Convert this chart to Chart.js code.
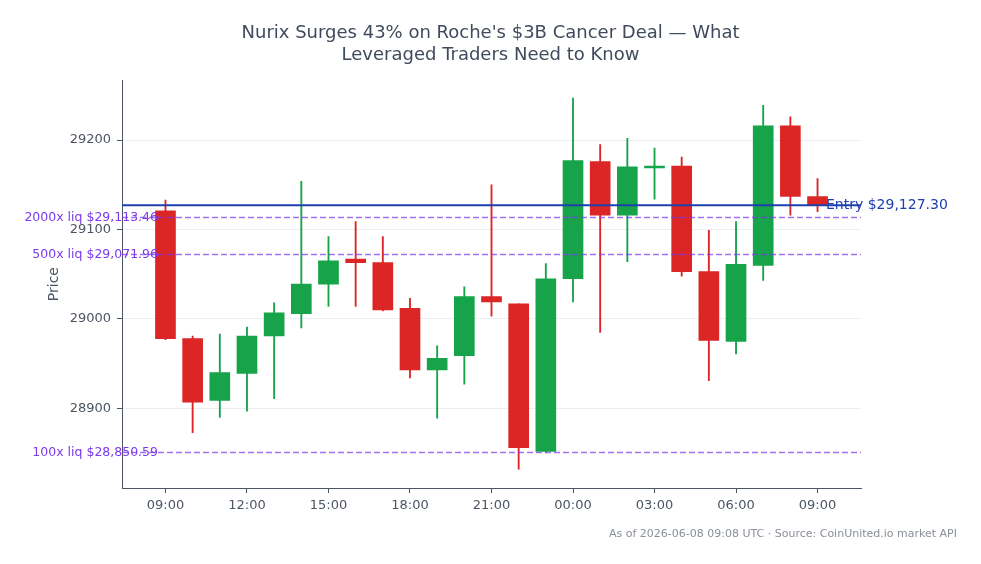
<!DOCTYPE html>
<html>
<head>
<meta charset="utf-8">
<script src="https://cdn.jsdelivr.net/npm/chart.js@4/dist/chart.umd.min.js"></script>
<style>
  html, body { margin: 0; padding: 0; background: #fff; }
</style>
</head>
<body>
<canvas id="chart" width="981" height="564"></canvas>
<script>
// hourly candles, 09:00 -> 09:00 next day
var times  = ['09:00','10:00','11:00','12:00','13:00','14:00','15:00','16:00','17:00','18:00','19:00','20:00','21:00',
              '22:00','23:00','00:00','01:00','02:00','03:00','04:00','05:00','06:00','07:00','08:00','09:00'];
var opens  = [29121, 28978, 28909, 28939, 28981, 29006, 29039, 29067, 29063, 29012, 28943, 28959, 29025,
              29017, 28852, 29045, 29176, 29116, 29169, 29171, 29053, 28975, 29060, 29216, 29137];
var highs  = [29133, 28981, 28983, 28991, 29018, 29154, 29092, 29109, 29092, 29023, 28970, 29036, 29150,
              29017, 29062, 29247, 29195, 29202, 29191, 29181, 29099, 29109, 29239, 29226, 29157];
var lows   = [28977, 28873, 28890, 28897, 28911, 28990, 29014, 29014, 29009, 28934, 28889, 28927, 29003,
              28832, 28851, 29019, 28985, 29064, 29134, 29048, 28931, 28961, 29043, 29116, 29120];
var closes = [28978, 28907, 28940, 28981, 29007, 29039, 29065, 29063, 29010, 28943, 28956, 29025, 29019,
              28856, 29045, 29177, 29116, 29170, 29171, 29053, 28976, 29061, 29216, 29137, 29127.3];

var entryPrice = 29127.30;
var liqLevels = [29113.46, 29071.96, 28850.59];
var liqLabels = ['2000x liq $29,113.46', '500x liq $29,071.96', '100x liq $28,850.59'];

const UP = '#16a34a';
const DOWN = '#dc2626';
const PURPLE = '#7c3aed';
const XMIN = -1.6, XMAX = 25.6;

var colors = [];
var bodies = [];
var wicks = [];
for (var i = 0; i < times.length; i++) {
  colors.push(closes[i] >= opens[i] ? UP : DOWN);
  var o = opens[i], c = closes[i];
  if (Math.abs(o - c) < 1.5) { c = o + (c >= o ? 1.5 : -1.5); } // keep dojis visible
  bodies.push({x: i, y: [o, c]});
  wicks.push({x: i, y: [lows[i], highs[i]]});
}

function hLine(v, color, width, dash) {
  return {
    type: 'line',
    data: [{x: XMIN, y: v}, {x: XMAX, y: v}],
    borderColor: color,
    borderWidth: width,
    borderDash: dash,
    pointRadius: 0,
    fill: false
  };
}

var datasets = [];
liqLevels.forEach(function (v) { datasets.push(hLine(v, 'rgba(124,58,237,0.72)', 1.5, [6, 3])); });
datasets.push(hLine(entryPrice, '#1e40af', 2, []));
datasets.push({ type: 'bar', data: bodies, backgroundColor: colors, barThickness: 20, grouped: false, borderWidth: 0 });
datasets.push({ type: 'bar', data: wicks, backgroundColor: colors, barThickness: 1.2, grouped: false, borderWidth: 0 });

// labels for the levels + footer note
const overlay = {
  id: 'overlay',
  afterDatasetsDraw(chart) {
    const ctx = chart.ctx, y = chart.scales.y, area = chart.chartArea;
    ctx.save();
    ctx.textBaseline = 'middle';
    ctx.font = '12.5px "DejaVu Sans"';
    ctx.fillStyle = PURPLE;
    ctx.textAlign = 'right';
    liqLevels.forEach(function (v, i) {
      ctx.fillText(liqLabels[i], area.left + 36, y.getPixelForValue(v));
    });
    ctx.font = '14px "DejaVu Sans"';
    ctx.fillStyle = '#1e40af';
    ctx.textAlign = 'left';
    ctx.fillText('Entry $29,127.30', area.right - 35, y.getPixelForValue(entryPrice));
    ctx.font = '11px "DejaVu Sans"';
    ctx.fillStyle = '#8a9099';
    ctx.textAlign = 'right';
    ctx.fillText('As of 2026-06-08 09:08 UTC \u00b7 Source: CoinUnited.io market API', 957, 534);
    ctx.restore();
  }
};

Chart.defaults.font.family = '"DejaVu Sans", sans-serif';

new Chart(document.getElementById('chart'), {
  type: 'bar',
  data: { datasets: datasets },
  plugins: [overlay],
  options: {
    responsive: false,
    animation: false,
    layout: { padding: 0 },
    plugins: {
      legend: { display: false },
      tooltip: { enabled: false },
      title: {
        display: true,
        text: ["Nurix Surges 43% on Roche's $3B Cancer Deal \u2014 What", 'Leveraged Traders Need to Know'],
        color: '#3f4b5c',
        font: { size: 18, weight: 'normal' },
        lineHeight: 1.17,
        padding: { top: 23, bottom: 14 }
      }
    },
    scales: {
      x: {
        type: 'linear',
        min: XMIN,
        max: XMAX,
        offset: false,
        grid: { offset: false, drawOnChartArea: false, tickLength: 5, tickColor: '#4b5563' },
        border: { color: '#4b5563', width: 1 },
        ticks: {
          stepSize: 3,
          includeBounds: false,
          color: '#4b5563',
          font: { size: 13 },
          padding: 5,
          callback: function (v) { return times[v]; }
        },
        afterFit: function (s) { s.height = 76; }
      },
      y: {
        min: 28811,
        max: 29267,
        grid: { color: '#eceef1', tickLength: 5, tickColor: '#4b5563' },
        border: { color: '#4b5563', width: 1 },
        ticks: {
          stepSize: 100, includeBounds: false, color: '#4b5563', font: { size: 13 }, padding: 6,
          callback: function (v) { return String(v); }
        },
        title: { display: true, text: 'Price', color: '#4b5563', font: { size: 14 }, padding: { top: 46, bottom: 0 } },
        afterFit: function (s) { s.width = 122; }
      },
      yr: {
        position: 'right',
        display: true,
        grid: { display: false },
        border: { display: false },
        ticks: { display: false },
        afterFit: function (s) { s.width = 120; }
      }
    }
  }
});
</script>
</body>
</html>
